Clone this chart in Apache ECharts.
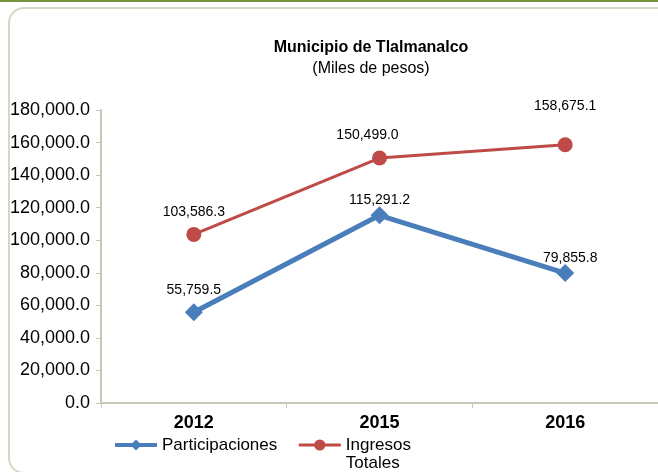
<!DOCTYPE html>
<html>
<head>
<meta charset="utf-8">
<script src="https://cdn.jsdelivr.net/npm/echarts@6/dist/echarts.min.js"></script>
<style>
  html, body { margin: 0; padding: 0; background: #fff; overflow: hidden; }
  #topline { position: absolute; left: 0; top: 0; width: 658px; height: 2px; background: #77933c; }
  #frame { position: absolute; left: 8px; top: 7px; width: 680px; height: 463px;
           border: 2px solid #d6d6c6; border-radius: 16px; }
  #chart { position: absolute; left: 0; top: 0; width: 658px; height: 472px; }
</style>
</head>
<body>
<div id="topline"></div>
<div id="frame"></div>
<div id="chart"></div>
<script>
// chart data
var years = ['2012', '2015', '2016']
var participaciones = [55759.5, 115291.2, 79855.8]
var ingresosTotales = [103586.3, 150499.0, 158675.1]

// label nudges per point [dx, dy] (style only)
var partLabelShift = [[0, -1], [0, 6], [5, 6]]
var ingLabelShift = [[0, -3], [-12, -3], [0, -19]]

var fmt = function(v) {
  return v.toLocaleString('en-US', { minimumFractionDigits: 1, maximumFractionDigits: 1 })
}

function buildPoints(values, shifts) {
  return values.map(function(v, i) {
    return { value: v, label: { offset: shifts[i] } }
  })
}

var FONT = 'Liberation Sans, Arial, sans-serif'
var chart = echarts.init(document.getElementById('chart'))

chart.setOption({
  animation: false,
  textStyle: { fontFamily: FONT },
  title: [{
    text: 'Municipio de Tlalmanalco',
    left: 366,
    top: 35,
    textAlign: 'center',
    textStyle: { fontSize: 16, fontWeight: 'bold', color: '#000', fontFamily: FONT }
  }, {
    text: '(Miles de pesos)',
    left: 366,
    top: 56,
    textAlign: 'center',
    textStyle: { fontSize: 16, fontWeight: 'normal', color: '#000', fontFamily: FONT }
  }],
  grid: {
    left: 101,
    top: 110,
    width: 561,
    height: 293,
    containLabel: false
  },
  legend: {
    left: 113,
    top: 418,
    padding: 0,
    itemWidth: 42,
    itemHeight: 14,
    itemGap: 20,
    data: [
      { name: 'Participaciones', lineStyle: { width: 4 } },
      { name: 'Ingresos Totales', lineStyle: { width: 3 } }
    ],
    // two-word name wraps; a blank first line keeps "Ingresos" level with its icon
    formatter: function(name) {
      return name.indexOf(' ') > 0 ? '\n' + name.replace(' ', '\n') : name
    },
    textStyle: {
      fontSize: 17,
      color: '#000',
      lineHeight: 18,
      fontFamily: FONT
    }
  },
  xAxis: {
    type: 'category',
    data: years,
    boundaryGap: true,
    axisLine: { lineStyle: { color: '#c9c9b6', width: 2 } },
    axisTick: { show: true, length: 5, lineStyle: { color: '#c9c9b6', width: 1 } },
    axisLabel: { fontSize: 18, fontWeight: 'bold', color: '#000', margin: 11 }
  },
  yAxis: {
    type: 'value',
    min: 0,
    max: 180000,
    interval: 20000,
    splitLine: { show: false },
    axisLine: { show: true, lineStyle: { color: '#c9c9b6', width: 2 } },
    axisTick: { show: true, length: 5, lineStyle: { color: '#c9c9b6', width: 1 } },
    axisLabel: {
      fontSize: 18,
      color: '#000',
      margin: 11,
      formatter: fmt
    }
  },
  series: [{
    name: 'Participaciones',
    type: 'line',
    data: buildPoints(participaciones, partLabelShift),
    symbol: 'diamond',
    symbolSize: 18,
    color: '#4a7ebb',
    lineStyle: { color: '#4a7ebb', width: 5 },
    itemStyle: { color: '#4a7ebb' },
    label: {
      show: true,
      position: 'top',
      distance: 5,
      fontSize: 14,
      color: '#000',
      formatter: function(p) { return fmt(p.value) }
    }
  }, {
    name: 'Ingresos Totales',
    type: 'line',
    data: buildPoints(ingresosTotales, ingLabelShift),
    symbol: 'circle',
    symbolSize: 15,
    color: '#be4b48',
    lineStyle: { color: '#be4b48', width: 3 },
    itemStyle: { color: '#be4b48' },
    label: {
      show: true,
      position: 'top',
      distance: 5,
      fontSize: 14,
      color: '#000',
      formatter: function(p) { return fmt(p.value) }
    }
  }]
})
</script>
</body>
</html>
